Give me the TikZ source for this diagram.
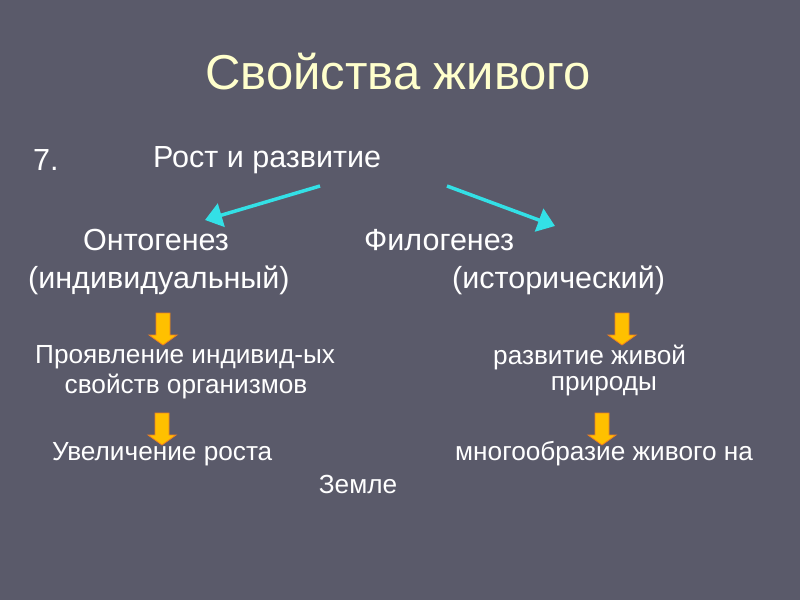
\documentclass[tikz,border=0pt]{standalone}
\usepackage{fontspec}
\setmainfont{Liberation Sans}
\usetikzlibrary{arrows.meta}

\definecolor{slidebg}{HTML}{5A5A6A}
\definecolor{titlecol}{HTML}{FFFFCC}
\definecolor{cyanarrow}{HTML}{33E0E6}
\definecolor{goldarrow}{HTML}{FFC000}
\definecolor{orangeedge}{HTML}{F08020}

\tikzset{
  txt/.style={text=white, font=\fontsize{30.5}{34}\selectfont, inner sep=0pt, anchor=west},
  smalltxt/.style={txt, font=\fontsize{26.2}{30}\selectfont},
  branch/.style={cyanarrow, line width=3.5pt, -{Triangle[length=17pt,width=24pt]}},
  downarrow/.pic={
    \filldraw[draw=orangeedge, fill=goldarrow, line width=0.8pt]
      (-7,-16) -- (7,-16) -- (7,6) -- (14,6) -- (0,16) -- (-14,6) -- (-7,6) -- cycle;
  }
}

\begin{document}
\begin{tikzpicture}[x=1pt,y=-1pt]
    % Background
    \fill[slidebg] (0,0) rectangle (800,600);
    \useasboundingbox (0,0) rectangle (800,600);

    % Title
    \node[text=titlecol, font=\fontsize{49}{56}\selectfont, inner sep=0pt] (title) at (398,72) {Свойства живого};

    % Heading line
    \node[txt] (num) at (33,160) {7.};
    \node[txt] (growth) at (153,160) {Рост и развитие};

    % Two branches
    \node[txt] (onto) at (83,240) {Онтогенез};
    \node[txt] (phylo) at (364,240) {Филогенез};
    \node[txt] (indiv) at (28,280) {(индивидуальный)};
    \node[txt] (hist) at (452,280) {(исторический)};

    % Cyan arrows
    \coordinate (lstart) at (320,186);
    \coordinate (lend) at (205,220);
    \coordinate (rstart) at (447,186);
    \coordinate (rend) at (555,226);
    \draw[branch] (lstart) -- (lend);
    \draw[branch] (rstart) -- (rend);

    % Orange arrows, first row
    \pic (la1) at (163,329) {downarrow};
    \pic (ra1) at (622,329) {downarrow};

    % Second row of text
    \node[smalltxt] (show) at (35,357) {Проявление индивид-ых};
    \node[smalltxt, anchor=center] (props) at (186,386) {свойств организмов};
    \node[smalltxt] (devel) at (493,357) {развитие живой};
    \node[smalltxt, anchor=center] (nature) at (604,386) {природы};

    % Orange arrows, second row
    \pic (la2) at (162,429) {downarrow};
    \pic (ra2) at (602,429) {downarrow};

    % Last row of text
    \node[smalltxt] (incr) at (52,454) {Увеличение роста};
    \node[smalltxt] (diver) at (455,454) {многообразие живого на};
    \node[smalltxt, anchor=center] (earth) at (358,484) {Земле};

\end{tikzpicture}
\end{document}
